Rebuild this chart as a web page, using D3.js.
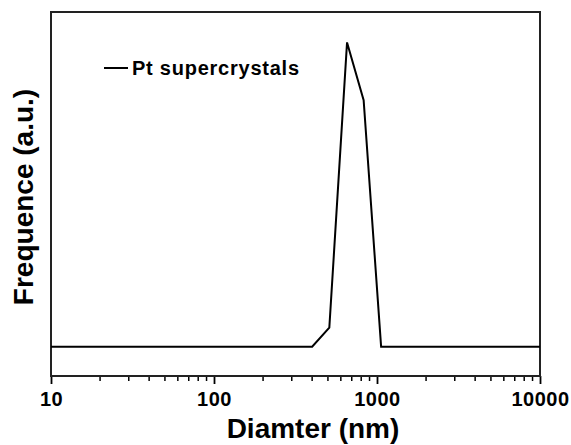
<!DOCTYPE html>
<html><head><meta charset="utf-8">
<script src="https://cdn.jsdelivr.net/npm/d3@7"></script>
<style>body{margin:0;background:#fff}svg{display:block}</style>
</head><body>
<svg id="c" width="571" height="445"></svg>
<script>
const diameters = [10, 400, 510, 655, 828, 1060, 10000];
const frequency = [0, 0, 6.3, 100, 81, 0, 0];
const xTicks = [10, 100, 1000, 10000];
const seriesName = "Pt supercrystals";

const svg = d3.select("#c");
const L = 51, R = 540, T = 12, B = 376;
const x = d3.scaleLog().domain([10, 10000]).range([L, R]);
const y = d3.scaleLinear().domain([-9.6, 110]).range([B, T]);
const font = "'Liberation Sans', Arial, sans-serif";

// minor ticks
const minor = [];
for (let d = 10; d < 10000; d *= 10) for (let k = 2; k <= 9; k++) minor.push(d * k);
svg.append("g").selectAll("line").data(minor).join("line")
  .attr("x1", d => x(d)).attr("x2", d => x(d)).attr("y1", B).attr("y2", B + 5)
  .attr("stroke", "#000").attr("stroke-width", 1.5);

const ax = svg.append("g").attr("transform", `translate(0,${B})`)
  .call(d3.axisBottom(x).tickValues(xTicks).tickFormat(d3.format("d")).tickSize(8).tickSizeOuter(0));
ax.select(".domain").remove();
ax.selectAll("line").attr("stroke-width", 1.8);
ax.selectAll("text").attr("font-family", font).attr("font-weight", "bold").attr("font-size", 20)
  .attr("y", 30).attr("dy", 0).attr("fill", "#000").attr("letter-spacing", 0.5);

// frame
svg.append("rect").attr("x", L).attr("y", T).attr("width", R - L).attr("height", B - T)
  .attr("fill", "none").attr("stroke", "#222").attr("stroke-width", 2);

const pts = diameters.map((d, i) => [d, frequency[i]]);
svg.append("path").datum(pts)
  .attr("d", d3.line().x(d => x(d[0])).y(d => y(d[1])))
  .attr("fill", "none").attr("stroke", "#000").attr("stroke-width", 2).attr("stroke-linejoin", "miter");

// legend
svg.append("line").attr("x1", 104).attr("x2", 128).attr("y1", 68).attr("y2", 68).attr("stroke", "#000").attr("stroke-width", 2);
svg.append("text").attr("x", 132).attr("y", 75).text(seriesName)
  .attr("font-family", font).attr("font-weight", "bold").attr("font-size", 20).attr("textLength", 167).attr("lengthAdjust", "spacing");

svg.append("text").attr("x", 313).attr("y", 438).attr("text-anchor", "middle").text("Diamter (nm)")
  .attr("font-family", font).attr("font-weight", "bold").attr("font-size", 28);
svg.append("text").attr("transform", `translate(33,197) rotate(-90)`).attr("text-anchor", "middle")
  .text("Frequence (a.u.)").attr("font-family", font).attr("font-weight", "bold").attr("font-size", 28);
</script>
</body></html>
